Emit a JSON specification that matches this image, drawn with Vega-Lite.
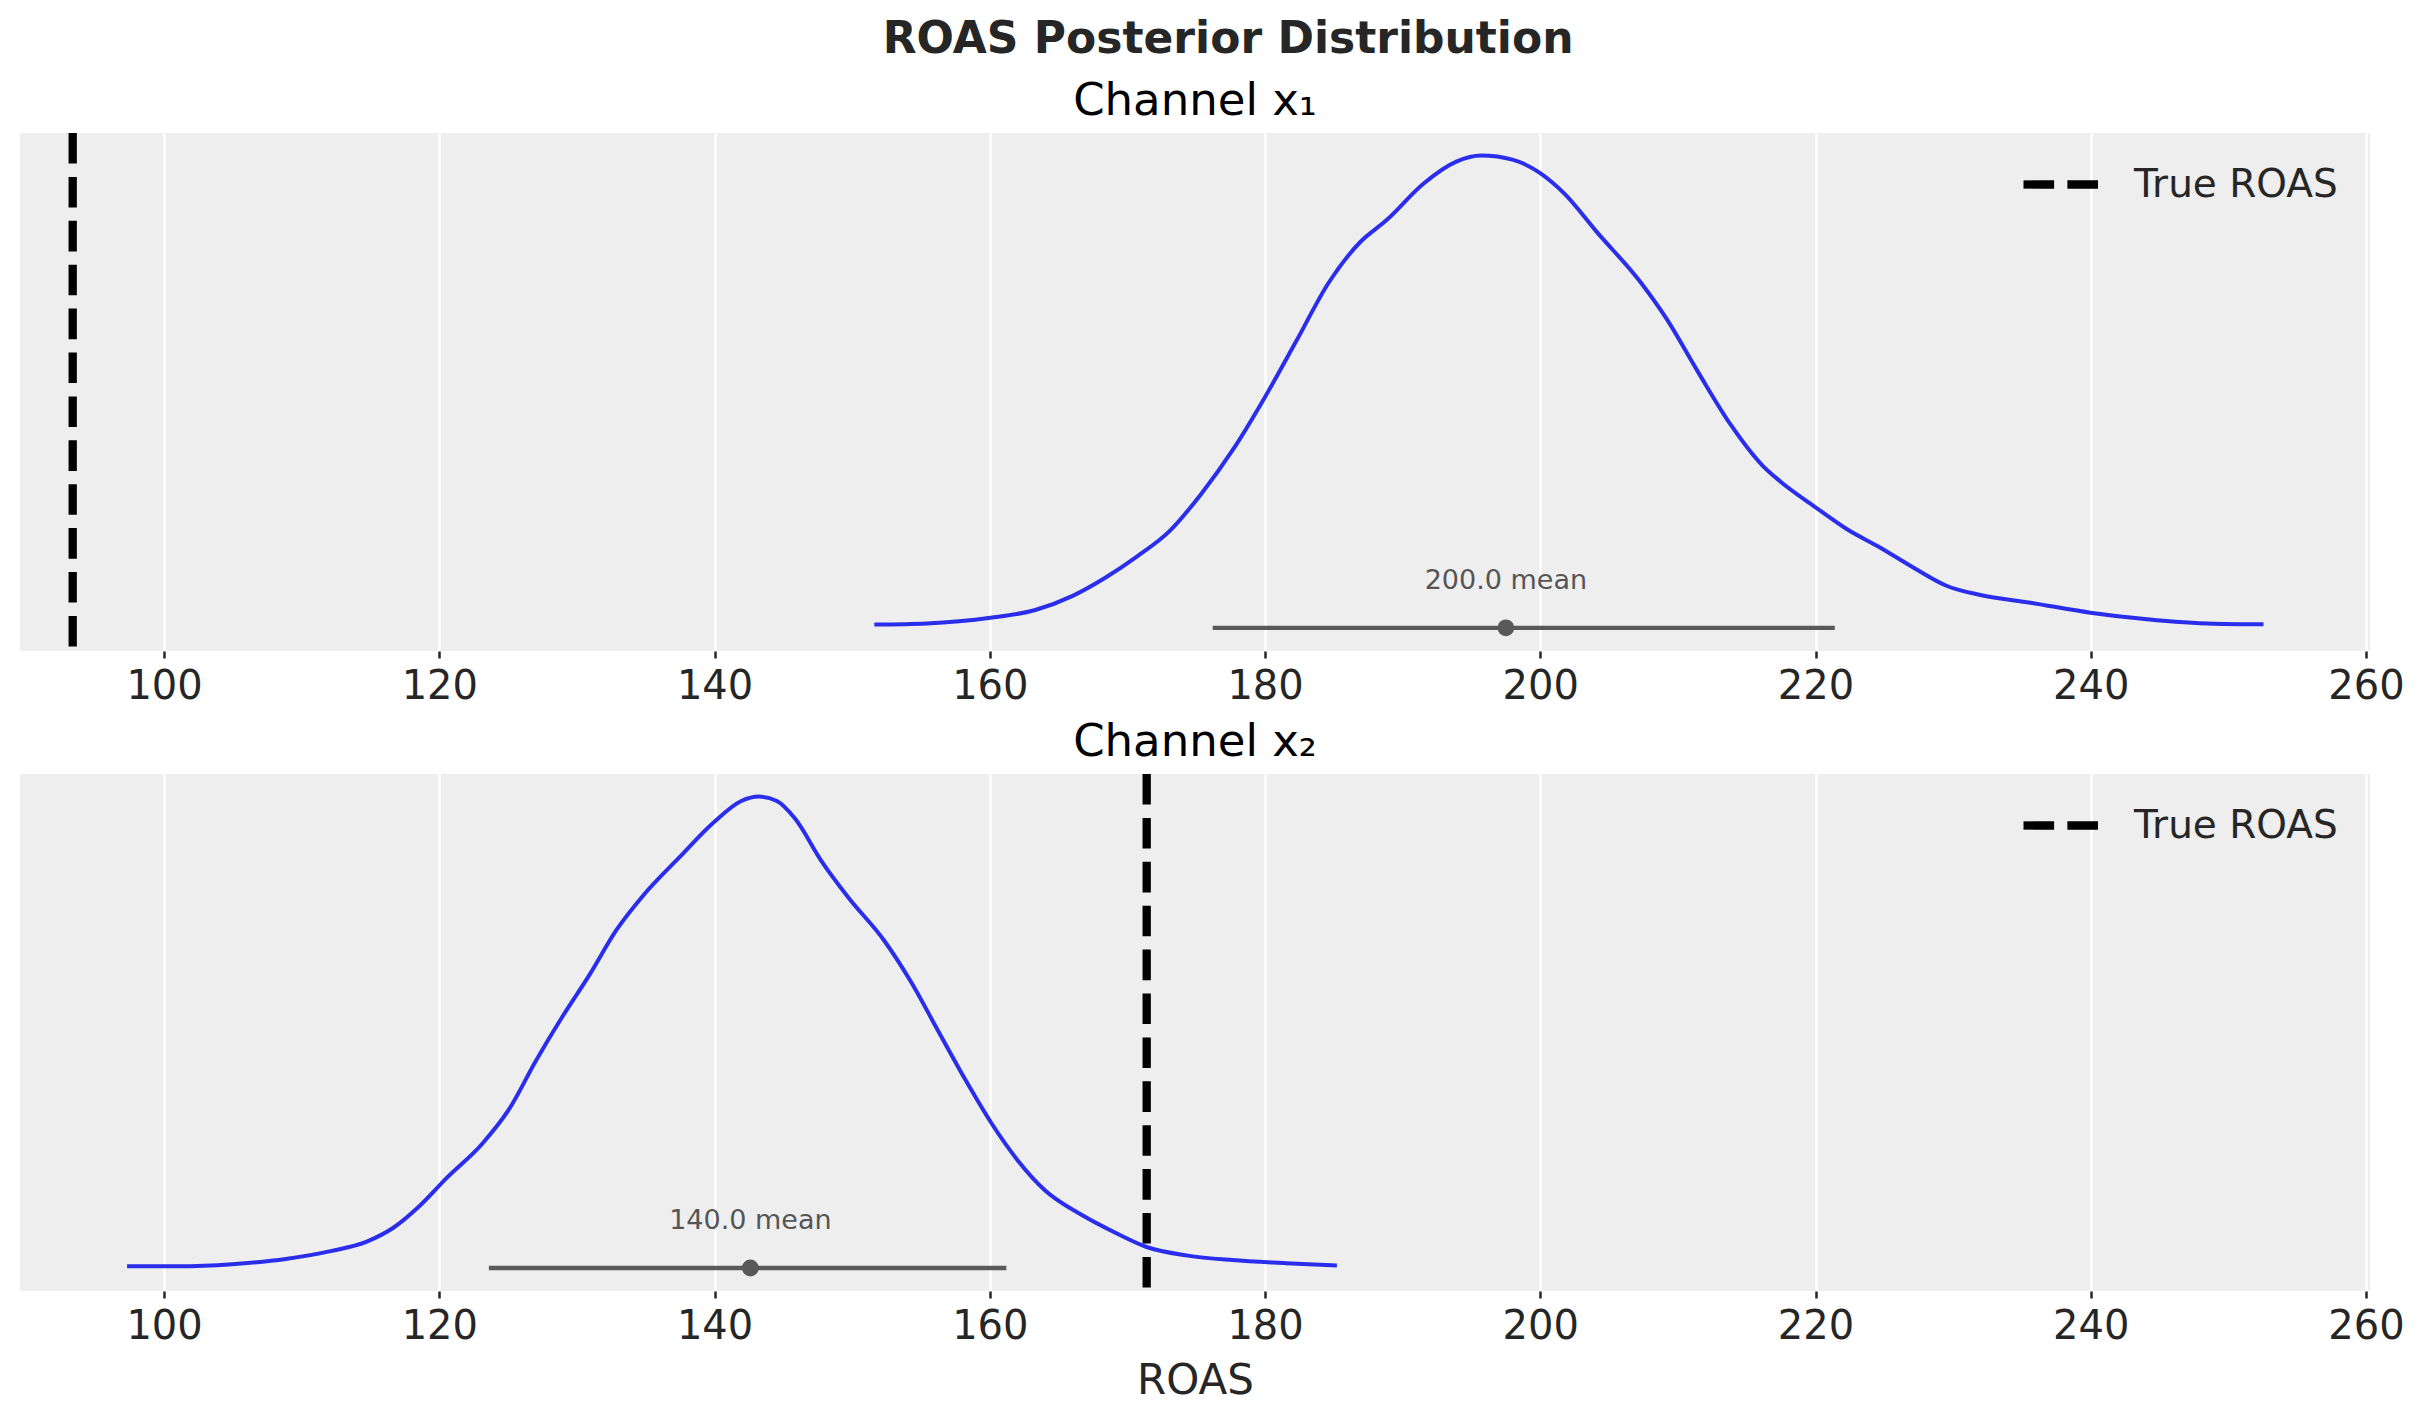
{
  "$schema": "https://vega.github.io/schema/vega-lite/v6.json",
  "background": "white",
  "padding": {"left": 20, "top": 17, "right": 0, "bottom": 20},
  "title": {
    "text": "ROAS Posterior Distribution",
    "fontSize": 44,
    "fontWeight": "bold",
    "color": "#262626",
    "anchor": "middle",
    "baseline": "alphabetic",
    "dx": 16,
    "offset": -18
  },
  "config": {
    "font": "DejaVu Sans",
    "view": {"stroke": null, "fill": "#eeeeee"},
    "axisX": {
      "grid": true,
      "gridColor": "white",
      "gridWidth": 2.5,
      "domain": false,
      "tickColor": "#262626",
      "tickSize": 7,
      "tickWidth": 2.5,
      "labelFontSize": 40,
      "labelColor": "#262626",
      "labelPadding": 8,
      "labelFlush": false,
      "labelOverlap": false,
      "titleFontSize": 42,
      "titleFontWeight": "normal",
      "titleColor": "#262626",
      "titlePadding": 14
    },
    "title": {
      "fontSize": 45,
      "fontWeight": "normal",
      "color": "black",
      "baseline": "alphabetic",
      "anchor": "middle",
      "offset": 5
    }
  },
  "datasets": {
    "kde1": [
      {"roas": 151.61, "density": 0.000203},
      {"roas": 155.41, "density": 0.000273},
      {"roas": 160.05, "density": 0.000635},
      {"roas": 163.30, "density": 0.001131},
      {"roas": 166.06, "density": 0.002046},
      {"roas": 168.39, "density": 0.003177},
      {"roas": 170.71, "density": 0.004536},
      {"roas": 173.04, "density": 0.006125},
      {"roas": 175.36, "density": 0.008507},
      {"roas": 177.69, "density": 0.011347},
      {"roas": 179.98, "density": 0.014638},
      {"roas": 182.30, "density": 0.018266},
      {"roas": 184.61, "density": 0.021906},
      {"roas": 186.92, "density": 0.024511},
      {"roas": 188.79, "density": 0.025870},
      {"roas": 191.57, "density": 0.028259},
      {"roas": 193.90, "density": 0.029612},
      {"roas": 195.71, "density": 0.030000},
      {"roas": 198.04, "density": 0.029727},
      {"roas": 199.91, "density": 0.028933},
      {"roas": 201.77, "density": 0.027567},
      {"roas": 204.07, "density": 0.025184},
      {"roas": 207.33, "density": 0.021906},
      {"roas": 209.18, "density": 0.019625},
      {"roas": 211.48, "density": 0.016226},
      {"roas": 213.81, "density": 0.012935},
      {"roas": 216.13, "density": 0.010324},
      {"roas": 217.44, "density": 0.009300},
      {"roas": 219.87, "density": 0.007738},
      {"roas": 222.29, "density": 0.006258},
      {"roas": 224.71, "density": 0.005089},
      {"roas": 227.13, "density": 0.003818},
      {"roas": 229.56, "density": 0.002656},
      {"roas": 231.98, "density": 0.002084},
      {"roas": 235.61, "density": 0.001595},
      {"roas": 239.97, "density": 0.000959},
      {"roas": 244.09, "density": 0.000540},
      {"roas": 248.93, "density": 0.000260},
      {"roas": 252.55, "density": 0.000222}
    ],
    "kde2": [
      {"roas": 97.31, "density": 0.000123},
      {"roas": 101.06, "density": 0.000123},
      {"roas": 104.95, "density": 0.000274},
      {"roas": 108.84, "density": 0.000649},
      {"roas": 112.09, "density": 0.001219},
      {"roas": 114.69, "density": 0.001890},
      {"roas": 116.63, "density": 0.002885},
      {"roas": 118.58, "density": 0.004493},
      {"roas": 120.52, "density": 0.006484},
      {"roas": 123.12, "density": 0.008965},
      {"roas": 125.07, "density": 0.011453},
      {"roas": 127.01, "density": 0.014930},
      {"roas": 128.96, "density": 0.018154},
      {"roas": 130.91, "density": 0.021139},
      {"roas": 132.86, "density": 0.024363},
      {"roas": 134.80, "density": 0.026852},
      {"roas": 137.40, "density": 0.029578},
      {"roas": 139.99, "density": 0.032189},
      {"roas": 141.94, "density": 0.033682},
      {"roas": 143.23, "density": 0.034000},
      {"roas": 144.53, "density": 0.033682},
      {"roas": 145.83, "density": 0.032434},
      {"roas": 147.78, "density": 0.029333},
      {"roas": 149.72, "density": 0.026722},
      {"roas": 152.32, "density": 0.023621},
      {"roas": 154.27, "density": 0.020642},
      {"roas": 156.21, "density": 0.017166},
      {"roas": 158.16, "density": 0.013689},
      {"roas": 160.11, "density": 0.010458},
      {"roas": 162.06, "density": 0.007724},
      {"roas": 164.00, "density": 0.005611},
      {"roas": 166.60, "density": 0.003873},
      {"roas": 169.19, "density": 0.002510},
      {"roas": 171.39, "density": 0.001515},
      {"roas": 174.38, "density": 0.000894},
      {"roas": 177.62, "density": 0.000570},
      {"roas": 181.52, "density": 0.000346},
      {"roas": 185.22, "density": 0.000173}
    ],
    "hdi1": [{"low": 176.2, "high": 221.4, "point": 197.5, "y": 0, "text_y": 0.00247, "label": "200.0 mean"}],
    "hdi2": [{"low": 123.6, "high": 161.2, "point": 142.6, "y": 0, "text_y": 0.00281, "label": "140.0 mean"}],
    "true1": [{"roas": 93.36, "series": "True ROAS"}],
    "true2": [{"roas": 171.4, "series": "True ROAS"}]
  },
  "spacing": 13,
  "resolve": {
    "scale": {"y": "independent", "strokeDash": "independent"},
    "legend": {"strokeDash": "independent"}
  },
  "vconcat": [
    {
      "width": 2350,
      "height": 518,
      "title": {"text": "Channel x₁"},
      "layer": [
        {
          "data": {"name": "kde1"},
          "mark": {"type": "line", "color": "#2a2eec", "strokeWidth": 4, "interpolate": "monotone"},
          "encoding": {
            "x": {
              "field": "roas",
              "type": "quantitative",
              "scale": {"domain": [89.53, 260.29], "nice": false, "zero": false},
              "axis": {"values": [100, 120, 140, 160, 180, 200, 220, 240, 260], "title": null}
            },
            "y": {
              "field": "density",
              "type": "quantitative",
              "scale": {"domain": [-0.001474, 0.031436], "nice": false, "zero": false},
              "axis": null
            }
          }
        },
        {
          "data": {"name": "hdi1"},
          "mark": {"type": "rule", "color": "#595959", "strokeWidth": 4.3},
          "encoding": {
            "x": {"field": "low", "type": "quantitative"},
            "x2": {"field": "high"},
            "y": {"field": "y", "type": "quantitative"}
          }
        },
        {
          "data": {"name": "hdi1"},
          "mark": {"type": "circle", "color": "#595959", "opacity": 1, "size": 283},
          "encoding": {
            "x": {"field": "point", "type": "quantitative"},
            "y": {"field": "y", "type": "quantitative"}
          }
        },
        {
          "data": {"name": "hdi1"},
          "mark": {"type": "text", "color": "#555555", "fontSize": 27, "align": "center", "baseline": "alphabetic"},
          "encoding": {
            "x": {"field": "point", "type": "quantitative"},
            "y": {"field": "text_y", "type": "quantitative"},
            "text": {"field": "label"}
          }
        },
        {
          "data": {"name": "true1"},
          "mark": {"type": "rule", "color": "black", "strokeWidth": 8.3},
          "encoding": {
            "x": {"field": "roas", "type": "quantitative"},
            "strokeDash": {
              "field": "series",
              "type": "nominal",
              "scale": {"domain": ["True ROAS"], "range": [[30.6, 13.3]]},
              "legend": {
                "orient": "none",
                "legendX": 1999,
                "legendY": 9.5,
                "title": null,
                "padding": 0,
                "symbolType": "stroke",
                "symbolSize": 5625,
                "symbolStrokeWidth": 8.3,
                "symbolStrokeColor": "black",
                "labelFontSize": 39,
                "labelColor": "#262626",
                "labelOffset": 31,
                "labelLimit": 0
              }
            }
          }
        }
      ]
    },
    {
      "width": 2350,
      "height": 517,
      "title": {"text": "Channel x₂"},
      "layer": [
        {
          "data": {"name": "kde2"},
          "mark": {"type": "line", "color": "#2a2eec", "strokeWidth": 4, "interpolate": "monotone"},
          "encoding": {
            "x": {
              "field": "roas",
              "type": "quantitative",
              "scale": {"domain": [89.53, 260.29], "nice": false, "zero": false},
              "axis": {"values": [100, 120, 140, 160, 180, 200, 220, 240, 260], "title": "ROAS"}
            },
            "y": {
              "field": "density",
              "type": "quantitative",
              "scale": {"domain": [-0.001659, 0.035629], "nice": false, "zero": false},
              "axis": null
            }
          }
        },
        {
          "data": {"name": "hdi2"},
          "mark": {"type": "rule", "color": "#595959", "strokeWidth": 4.3},
          "encoding": {
            "x": {"field": "low", "type": "quantitative"},
            "x2": {"field": "high"},
            "y": {"field": "y", "type": "quantitative"}
          }
        },
        {
          "data": {"name": "hdi2"},
          "mark": {"type": "circle", "color": "#595959", "opacity": 1, "size": 283},
          "encoding": {
            "x": {"field": "point", "type": "quantitative"},
            "y": {"field": "y", "type": "quantitative"}
          }
        },
        {
          "data": {"name": "hdi2"},
          "mark": {"type": "text", "color": "#555555", "fontSize": 27, "align": "center", "baseline": "alphabetic"},
          "encoding": {
            "x": {"field": "point", "type": "quantitative"},
            "y": {"field": "text_y", "type": "quantitative"},
            "text": {"field": "label"}
          }
        },
        {
          "data": {"name": "true2"},
          "mark": {"type": "rule", "color": "black", "strokeWidth": 8.3},
          "encoding": {
            "x": {"field": "roas", "type": "quantitative"},
            "strokeDash": {
              "field": "series",
              "type": "nominal",
              "scale": {"domain": ["True ROAS"], "range": [[30.6, 13.3]]},
              "legend": {
                "orient": "none",
                "legendX": 1999,
                "legendY": 9.5,
                "title": null,
                "padding": 0,
                "symbolType": "stroke",
                "symbolSize": 5625,
                "symbolStrokeWidth": 8.3,
                "symbolStrokeColor": "black",
                "labelFontSize": 39,
                "labelColor": "#262626",
                "labelOffset": 31,
                "labelLimit": 0
              }
            }
          }
        }
      ]
    }
  ]
}
